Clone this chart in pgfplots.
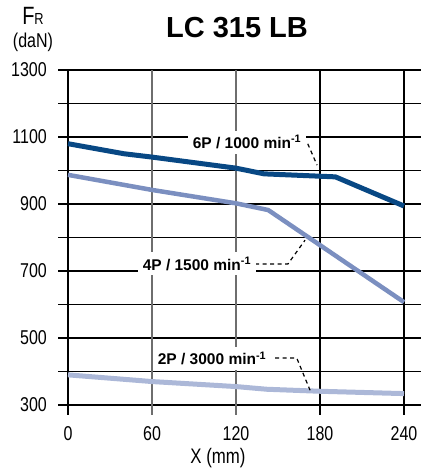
\documentclass[border=0pt]{standalone}
\usepackage{pgfplots}
\pgfplotsset{compat=1.18}
\usepackage{fontspec}
\setmainfont{Liberation Sans}
\newfontfamily\narrowfont{Liberation Sans}[FakeStretch=0.8]
\definecolor{sixp}{RGB}{8,72,132}
\definecolor{fourp}{RGB}{123,143,192}
\definecolor{twop}{RGB}{172,184,216}
\definecolor{gridgray}{RGB}{110,110,110}
\begin{document}
\begin{tikzpicture}[x=1pt,y=1pt]
\path[use as bounding box] (0,0) rectangle (421,476);
\begin{axis}[
  at={(68pt,71pt)}, anchor=south west,
  scale only axis, width=352.8pt, height=335pt,
  xmin=0, xmax=252, ymin=300, ymax=1300,
  clip=false,
  axis line style={draw=none},
  major tick length=0pt,
  xtick={0,60,120,180,240},
  ytick={300,500,700,900,1100,1300},
  xticklabel style={anchor=base, inner sep=0pt, yshift=-35pt, font=\narrowfont\fontsize{20}{20}\selectfont},
  yticklabel style={anchor=east, inner sep=0pt, xshift=-21pt, font=\narrowfont\fontsize{20}{20}\selectfont},
  /pgf/number format/assume math mode=true,
  /pgf/number format/set thousands separator={},
]
% grid
\draw[black, line width=1.4pt] (axis cs:-7.1,300) -- (axis cs:252,300);
\draw[black, line width=1.4pt] (axis cs:-7.1,400) -- (axis cs:252,400);
\draw[black, line width=1.4pt] (axis cs:-7.1,500) -- (axis cs:252,500);
\draw[black, line width=1.4pt] (axis cs:-7.1,600) -- (axis cs:252,600);
\draw[black, line width=1.4pt] (axis cs:-7.1,700) -- (axis cs:252,700);
\draw[black, line width=1.4pt] (axis cs:-7.1,800) -- (axis cs:252,800);
\draw[black, line width=1.4pt] (axis cs:-7.1,900) -- (axis cs:252,900);
\draw[black, line width=1.4pt] (axis cs:-7.1,1000) -- (axis cs:252,1000);
\draw[black, line width=1.4pt] (axis cs:-7.1,1100) -- (axis cs:252,1100);
\draw[black, line width=1.4pt] (axis cs:-7.1,1200) -- (axis cs:252,1200);
\draw[black, line width=1.4pt] (axis cs:-7.1,1300) -- (axis cs:252,1300);
\draw[gridgray, line width=1.5pt] (axis cs:60,1300) -- (axis cs:60,270);
\draw[gridgray, line width=1.5pt] (axis cs:120,1300) -- (axis cs:120,270);
\draw[black, line width=1.4pt] (axis cs:180,1300) -- (axis cs:180,270);
\draw[black, line width=1.4pt] (axis cs:240,1300) -- (axis cs:240,270);
\draw[black, line width=1.6pt] (axis cs:0,1300) -- (axis cs:0,270);
% curves
\addplot[twop, line width=5pt, line join=round] coordinates {(0,390) (60,370) (120,355) (142,347) (180,341) (240,334)};
\addplot[fourp, line width=4.5pt, line join=round] coordinates {(0,987) (60,942) (120,902) (143,882) (240,607)};
\addplot[sixp, line width=5pt, line join=round] coordinates {(0,1080) (40,1050) (60,1040) (120,1007) (140,990) (191,981) (240,894)};
% leaders
\draw[black, line width=1.2pt, dash pattern=on 4pt off 3.5pt] (axis cs:156,1085) -- (axis cs:170.7,1085) -- (axis cs:177.9,1016);
\draw[black, line width=1.2pt, dash pattern=on 4pt off 3.5pt] (axis cs:133.6,721) -- (axis cs:157.1,721) -- (axis cs:169.3,792);
\draw[black, line width=1.2pt, dash pattern=on 4pt off 3.5pt] (axis cs:148,440) -- (axis cs:163.4,440) -- (axis cs:172.9,344);
% labels
\node[fill=white, inner xsep=5pt, inner ysep=5pt, font=\fontsize{15.5}{15.5}\selectfont\bfseries] at (axis cs:127.9,1085) {6P / 1000 min\textsuperscript{-1}};
\node[fill=white, inner xsep=5pt, inner ysep=5pt, font=\fontsize{15.5}{15.5}\selectfont\bfseries] at (axis cs:92.1,721) {4P / 1500 min\textsuperscript{-1}};
\node[fill=white, inner xsep=5pt, inner ysep=5pt, font=\fontsize{15.5}{15.5}\selectfont\bfseries] at (axis cs:102.9,440) {2P / 3000 min\textsuperscript{-1}};
\end{axis}
\node[font=\fontsize{29}{29}\selectfont\bfseries] at (237,448) {LC 315 LB};
\node[anchor=base, font=\narrowfont\fontsize{25}{25}\selectfont, inner sep=0pt] at (33,451) {F{\fontsize{16}{16}\selectfont R}};
\node[font=\narrowfont\fontsize{20}{20}\selectfont, inner sep=0pt] at (33,434) {(daN)};
\node[font=\narrowfont\fontsize{21}{21}\selectfont, inner sep=0pt] at (218,18) {X (mm)};
\end{tikzpicture}
\end{document}
